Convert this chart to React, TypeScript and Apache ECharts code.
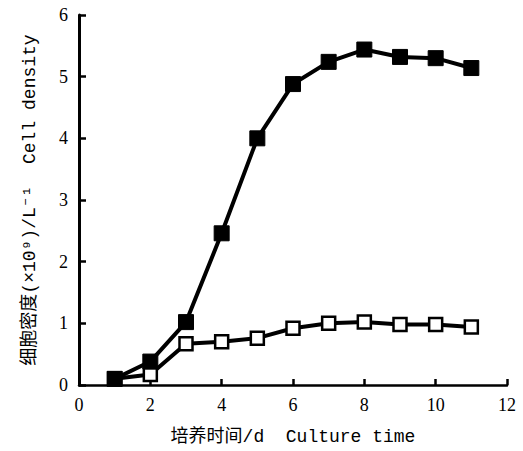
import React, { useEffect, useRef } from "react";
import * as echarts from "echarts";

const days = [1, 2, 3, 4, 5, 6, 7, 8, 9, 10, 11];
const filledSeries = [0.1, 0.38, 1.02, 2.46, 4.0, 4.88, 5.24, 5.44, 5.32, 5.3, 5.14];
const openSeries = [0.1, 0.17, 0.67, 0.7, 0.76, 0.92, 1.0, 1.02, 0.98, 0.98, 0.94];
const xTicks = [0, 2, 4, 6, 8, 10, 12];
const yTicks = [0, 1, 2, 3, 4, 5, 6];
const xName = "培养时间/d  Culture time";
const yName = "细胞密度(×10⁹)/L⁻¹  Cell density";

export default function App() {
  const ref = useRef<HTMLDivElement>(null);
  useEffect(() => {
    if (!ref.current) return;
    const chart = echarts.init(ref.current, null, { renderer: "svg" });
    const labelFont = {
      color: "#000",
      fontSize: 18,
      fontFamily: "Liberation Serif, Noto Sans CJK SC, serif",
    };
    const nameFont = {
      color: "#000",
      fontSize: 18,
      fontFamily: "Liberation Mono, Noto Sans CJK SC, monospace",
    };
    chart.setOption({
      animation: false,
      backgroundColor: "#fff",
      grid: { left: 79, right: 16, top: 15, bottom: 65, containLabel: false },
      xAxis: {
        type: "value",
        min: xTicks[0],
        max: xTicks[xTicks.length - 1],
        interval: 2,
        name: xName,
        nameLocation: "middle",
        nameGap: 43,
        nameTextStyle: nameFont,
        axisLine: { show: true, lineStyle: { color: "#000", width: 2.5 } },
        axisTick: { show: true, inside: true, length: 6, lineStyle: { color: "#000", width: 2.5 } },
        axisLabel: { ...labelFont, margin: 11 },
        splitLine: { show: false },
      },
      yAxis: {
        type: "value",
        min: yTicks[0],
        max: yTicks[yTicks.length - 1],
        interval: 1,
        name: yName,
        nameLocation: "middle",
        nameGap: 40,
        nameTextStyle: nameFont,
        axisLine: { show: true, lineStyle: { color: "#000", width: 3 } },
        axisTick: { show: true, inside: true, length: 7, lineStyle: { color: "#000", width: 2.5 } },
        axisLabel: { ...labelFont, margin: 11 },
        splitLine: { show: false },
      },
      series: [
        {
          type: "line",
          data: days.map((d, i) => [d, openSeries[i]]),
          symbol: "rect",
          symbolSize: 13,
          lineStyle: { color: "#000", width: 4 },
          itemStyle: { color: "#fff", borderColor: "#000", borderWidth: 2.5 },
          z: 2,
        },
        {
          type: "line",
          data: days.map((d, i) => [d, filledSeries[i]]),
          symbol: "rect",
          symbolSize: 15,
          lineStyle: { color: "#000", width: 4 },
          itemStyle: { color: "#000", borderColor: "#000", borderWidth: 1 },
          z: 3,
        },
      ],
    });
    return () => chart.dispose();
  }, []);
  return (
    <div
      ref={ref}
      style={{ position: "fixed", left: 0, top: 0, width: 523, height: 451, background: "#fff" }}
    />
  );
}
